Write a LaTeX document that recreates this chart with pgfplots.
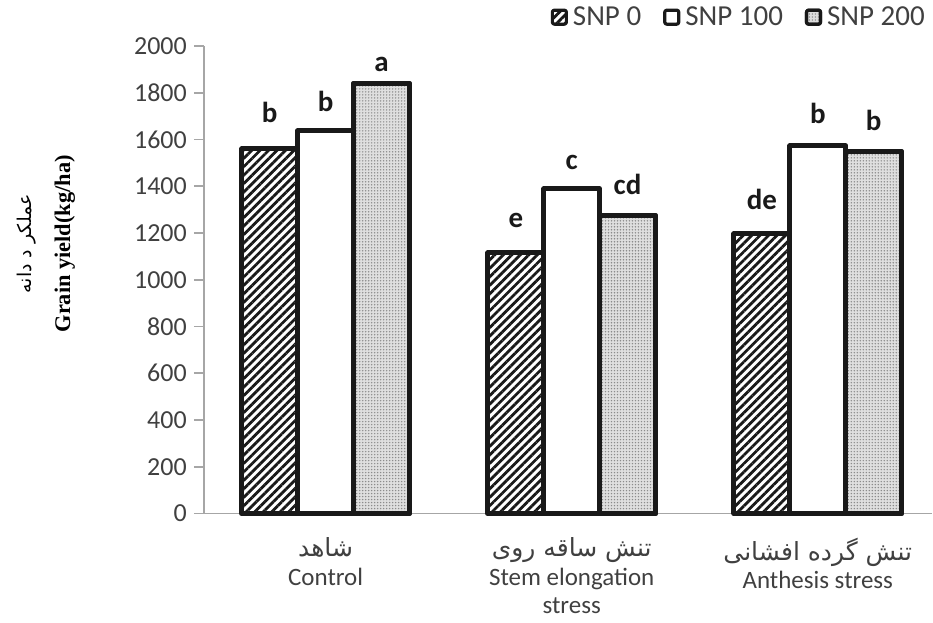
\documentclass[border=0pt]{standalone}
\usepackage{fontspec}
\setmainfont{Carlito}
\newfontfamily\fa[Script=Arabic]{DejaVu Sans}
\newfontfamily\tnr{Liberation Serif}
\TeXXeTstate=1
\usepackage{pgfplots}
\pgfplotsset{compat=1.18}
\usetikzlibrary{patterns.meta}
\definecolor{tickgray}{HTML}{404040}
\definecolor{axgray}{HTML}{A6A6A6}
\tikzset{lab/.style={anchor=base, font=\bfseries\fontsize{14.5}{16}\selectfont, text=black!90}}
\begin{document}
\begin{tikzpicture}
\begin{axis}[
  scale only axis, width=364.5pt, height=234pt,
  xmin=-0.495, xmax=2.465, ymin=0, ymax=2000,
  ytick={0,200,...,2000},
  xtick={0,1,2},
  xticklabels={{{\fa\beginR شاهد\endR}\\Control},
                {{\fa\beginR تنش ساقه روی\endR}\\Stem elongation\\stress},
                {{\fa\beginR تنش گرده افشانی\endR}\\Anthesis stress}},
  axis x line*=bottom, axis y line*=left,
  axis line style={axgray, line width=0.8pt, -},
  ytick style={axgray, line width=0.8pt},
  xtick style={draw=none},
  tick align=outside, major tick length=5pt,
  tick label style={font=\fontsize{13}{15}\selectfont, text=tickgray},
  /pgf/number format/assume math mode=true,
  /pgf/number format/1000 sep={},
  xticklabel style={font=\fontsize{12.5}{14.3}\selectfont, align=center, text=tickgray, yshift=-3.5pt},
  ybar, bar width=0.227,
  legend image code/.code={\draw[#1, line width=1.6pt, rounded corners=1pt] (0pt,-3.5pt) rectangle (7pt,3.5pt);},
  clip=false,
  legend columns=3,
  legend style={at={(0.993,1.09)}, anchor=north east, draw=none, fill=none,
    font=\fontsize{14.5}{16}\selectfont, text=tickgray, inner sep=0pt,
    nodes={inner sep=1pt},
    /tikz/every odd column/.append style={column sep=1.5pt},
    /tikz/every even column/.append style={column sep=10pt}},
]
\addplot[bar shift=-0.227, draw=black!90, line width=2.5pt, line join=round,
  pattern={Lines[angle=45,distance=3pt,line width=1.4pt]}, pattern color=black!90]
  coordinates {(0,1560) (1,1115) (2,1197)};
\addplot[bar shift=0, draw=black!90, line width=2.5pt, line join=round, fill=white]
  coordinates {(0,1637) (1,1389) (2,1573)};
\addplot[bar shift=0.227, draw=black!90, line width=2.5pt, line join=round, fill=gray!25,
  postaction={pattern={Dots[distance=1.5pt,radius=0.4pt]}, pattern color=gray!90}]
  coordinates {(0,1838) (1,1274) (2,1547)};
\legend{SNP 0, SNP 100, SNP 200}
\node[lab] at (axis cs:-0.227,1671) {b};
\node[lab] at (axis cs:0,1718) {b};
\node[lab] at (axis cs:0.227,1889) {a};
\node[lab] at (axis cs:0.773,1222) {e};
\node[lab] at (axis cs:1,1470) {c};
\node[lab] at (axis cs:1.227,1363) {cd};
\node[lab] at (axis cs:1.773,1299) {de};
\node[lab] at (axis cs:2,1667) {b};
\node[lab] at (axis cs:2.227,1637) {b};
\node[rotate=90, font=\tnr\bfseries\fontsize{11.2}{13}\selectfont] at (rel axis cs:-0.1907,0.577) {Grain yield(kg/ha)};
\node[rotate=90, font=\fa\fontsize{9.5}{11}\selectfont] at (rel axis cs:-0.243,0.577) {\beginR عملکر د دانه\endR};
\path (rel axis cs:-0.2798,-0.2329) rectangle (rel axis cs:1.0,1.0983);
\end{axis}
\end{tikzpicture}
\end{document}
